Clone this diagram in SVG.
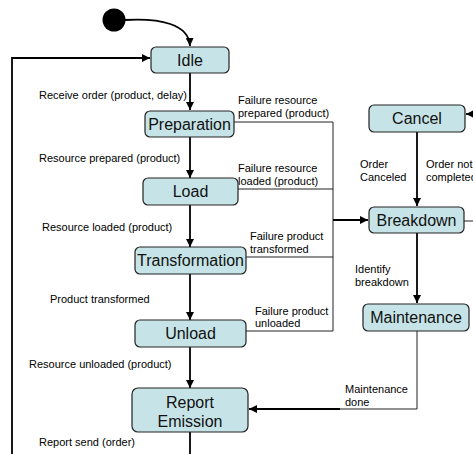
<svg xmlns="http://www.w3.org/2000/svg" width="473" height="454" viewBox="0 0 473 454">
  <defs>
    <marker id="arrow" viewBox="0 0 8 8" refX="8" refY="4" markerWidth="8" markerHeight="8" markerUnits="userSpaceOnUse" orient="auto">
      <path d="M0,0 L8,4 L0,8 z" fill="#000"/>
    </marker>
    <style>
      .state rect { fill: #c6e4e7; stroke: #222; stroke-width: 1.2; }
      .state text { font-family: "Liberation Sans", Arial, sans-serif; font-size: 16px; fill: #111; text-anchor: middle; }
      .lbl { font-family: "Liberation Sans", Arial, sans-serif; font-size: 11px; fill: #000; }
      .main { fill: none; stroke: #000; stroke-width: 1.8; }
      .thin { fill: none; stroke: #222; stroke-width: 1; }
    </style>
  </defs>

  <rect width="473" height="454" fill="#fff"/>

  <!-- connectors -->
  <g id="connectors">
    <circle cx="114" cy="20" r="11.5" fill="#000"/>
    <path class="main" d="M125,20 C160,18 189,24 190,46" marker-end="url(#arrow)"/>
    <path class="main" d="M12,454 L12,58 L150,58" marker-end="url(#arrow)"/>
    <path class="main" d="M190,73 L190,110" marker-end="url(#arrow)"/>
    <path class="main" d="M190,137 L190,178" marker-end="url(#arrow)"/>
    <path class="main" d="M190,205 L190,247" marker-end="url(#arrow)"/>
    <path class="main" d="M190,274 L190,320" marker-end="url(#arrow)"/>
    <path class="main" d="M190,347 L190,388" marker-end="url(#arrow)"/>
    <path class="main" d="M190,432 L190,454"/>
    <!-- failure collectors -->
    <path class="thin" d="M234,122 L333,122 L333,331 L246,331"/>
    <path class="thin" d="M238,189 L333,189"/>
    <path class="thin" d="M246,257 L333,257"/>
    <path class="main" d="M333,220 L368,220" marker-end="url(#arrow)"/>
    <!-- right side -->
    <path class="main" d="M473,114 L466,114" marker-end="url(#arrow)"/>
    <path class="main" d="M417,132 L417,206" marker-end="url(#arrow)"/>
    <path class="thin" d="M464,221 L473,221"/>
    <path class="main" d="M417,233 L417,303" marker-end="url(#arrow)"/>
    <path class="thin" d="M417,331 L417,409 L340,409"/>
    <path class="main" d="M340,409 L249,409" marker-end="url(#arrow)"/>
  </g>

  <!-- transition labels -->
  <g id="labels">
    <text class="lbl" x="39" y="99">Receive order (product, delay)</text>
    <text class="lbl" x="39" y="162">Resource prepared (product)</text>
    <text class="lbl" x="42" y="231">Resource loaded (product)</text>
    <text class="lbl" x="50" y="303">Product transformed</text>
    <text class="lbl" x="29" y="368">Resource unloaded (product)</text>
    <text class="lbl" x="39" y="446">Report send (order)</text>
    <text class="lbl" x="238" y="104">Failure resource</text>
    <text class="lbl" x="238" y="117">prepared (product)</text>
    <text class="lbl" x="238" y="172">Failure resource</text>
    <text class="lbl" x="238" y="185">loaded (product)</text>
    <text class="lbl" x="250" y="240">Failure product</text>
    <text class="lbl" x="250" y="253">transformed</text>
    <text class="lbl" x="255" y="315">Failure product</text>
    <text class="lbl" x="255" y="327">unloaded</text>
    <text class="lbl" x="360" y="168">Order</text>
    <text class="lbl" x="360" y="181">Canceled</text>
    <text class="lbl" x="426" y="168">Order not</text>
    <text class="lbl" x="426" y="181">completed</text>
    <text class="lbl" x="355" y="273">Identify</text>
    <text class="lbl" x="355" y="286">breakdown</text>
    <text class="lbl" x="345" y="393">Maintenance</text>
    <text class="lbl" x="345" y="406">done</text>
  </g>

  <!-- states -->
  <g id="idle" class="state">
    <rect x="151" y="47" width="78" height="26" rx="5"/>
    <text x="190" y="66">Idle</text>
  </g>
  <g id="preparation" class="state">
    <rect x="145" y="111" width="89" height="26" rx="5"/>
    <text x="189.5" y="130">Preparation</text>
  </g>
  <g id="load" class="state">
    <rect x="143" y="178" width="95" height="27" rx="5"/>
    <text x="190.5" y="197">Load</text>
  </g>
  <g id="transformation" class="state">
    <rect x="135" y="247" width="111" height="27" rx="5"/>
    <text x="190.5" y="266">Transformation</text>
  </g>
  <g id="unload" class="state">
    <rect x="135" y="320" width="111" height="27" rx="5"/>
    <text x="190.5" y="339">Unload</text>
  </g>
  <g id="report-emission" class="state">
    <rect x="132" y="388" width="116" height="44" rx="6"/>
    <text x="190" y="408">Report</text>
    <text x="190" y="427">Emission</text>
  </g>
  <g id="cancel" class="state">
    <rect x="369" y="105" width="96" height="27" rx="5"/>
    <text x="417" y="124">Cancel</text>
  </g>
  <g id="breakdown" class="state">
    <rect x="369" y="207" width="95" height="26" rx="5"/>
    <text x="416.5" y="226">Breakdown</text>
  </g>
  <g id="maintenance" class="state">
    <rect x="363" y="304" width="106" height="27" rx="5"/>
    <text x="416" y="323">Maintenance</text>
  </g>
</svg>
